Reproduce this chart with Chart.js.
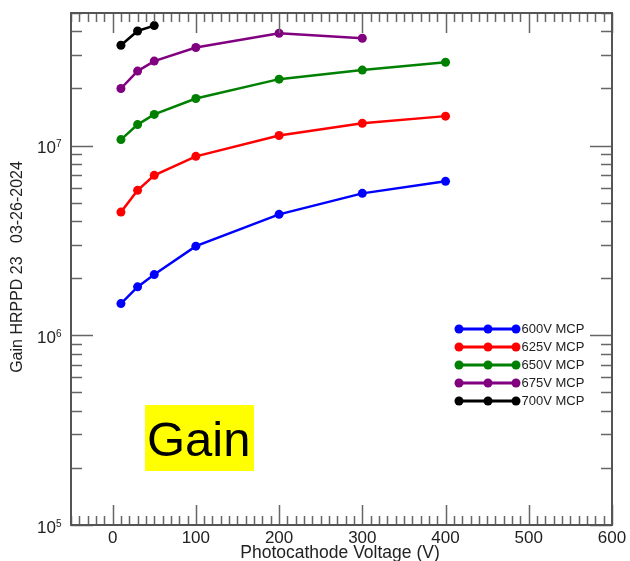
<!DOCTYPE html>
<html>
<head>
<meta charset="utf-8">
<script src="https://cdn.jsdelivr.net/npm/chart.js@4/dist/chart.umd.min.js"></script>
<style>
  html, body { margin: 0; padding: 0; background: #fff; }
</style>
</head>
<body>
<canvas id="gainChart" width="630" height="561"></canvas>
<script>
// gain vs photocathode voltage, one series per MCP voltage
const voltages = [10, 30, 50, 100, 200, 300, 400];
const gain600 = [1.47e6, 1.80e6, 2.09e6, 2.95e6, 4.34e6, 5.6e6, 6.48e6];
const gain625 = [4.46e6, 5.81e6, 6.97e6, 8.78e6, 1.13e7, 1.31e7, 1.43e7];
const gain650 = [1.076e7, 1.29e7, 1.46e7, 1.77e7, 2.24e7, 2.50e7, 2.75e7];
const gain675 = [2.0e7, 2.47e7, 2.79e7, 3.29e7, 3.91e7, 3.68e7];
const gain700 = [3.38e7, 4.02e7, 4.29e7];
const seriesLabels = ['600V MCP', '625V MCP', '650V MCP', '675V MCP', '700V MCP'];
const seriesColors = ['#0000ff', '#ff0000', '#008000', '#800080', '#000000'];
const xTickLabels = [0, 100, 200, 300, 400, 500, 600];
const yTickExponents = [5, 6, 7];

const FONT = '"Liberation Sans", Arial, Helvetica, sans-serif';

function toPoints(arr) {
  return arr.map((g, i) => ({ x: voltages[i], y: g }));
}

const frameAndLabels = {
  id: 'frameAndLabels',
  afterDraw(chart) {
    const { ctx, chartArea: a, scales } = chart;
    const xs = scales.x, ys = scales.y;
    ctx.save();

    // ticks on all four sides, pointing inward
    ctx.strokeStyle = '#666';
    ctx.lineWidth = 1.5;
    ctx.beginPath();
    for (let v = -50; v <= 600; v += 10) {
      const px = Math.round(xs.getPixelForValue(v)) + 0.5;
      const len = v % 100 === 0 ? 20 : 9;
      ctx.moveTo(px, a.bottom); ctx.lineTo(px, a.bottom - len);
      ctx.moveTo(px, a.top); ctx.lineTo(px, a.top + len);
    }
    for (let d = 5; d <= 7; d++) {
      for (let m = 1; m <= 9; m++) {
        const v = m * Math.pow(10, d);
        if (v > ys.max) break;
        const py = Math.round(ys.getPixelForValue(v)) + 0.5;
        const len = m === 1 ? 22 : 11;
        ctx.moveTo(a.left, py); ctx.lineTo(a.left + len, py);
        ctx.moveTo(a.right, py); ctx.lineTo(a.right - len, py);
      }
    }
    ctx.stroke();

    // frame
    ctx.strokeStyle = '#555';
    ctx.lineWidth = 2;
    ctx.strokeRect(a.left, a.top, a.right - a.left, a.bottom - a.top);

    // x tick labels
    ctx.fillStyle = '#222';
    ctx.font = '17px ' + FONT;
    ctx.textAlign = 'center';
    ctx.textBaseline = 'middle';
    xTickLabels.forEach((v) => {
      ctx.fillText(String(v), xs.getPixelForValue(v), a.bottom + 13);
    });

    // y tick labels 10^n
    yTickExponents.forEach((e) => {
      const py = ys.getPixelForValue(Math.pow(10, e));
      ctx.font = '17px ' + FONT;
      ctx.textAlign = 'right';
      ctx.textBaseline = 'middle';
      ctx.fillText('10', 56, py + 3);
      ctx.font = '10px ' + FONT;
      ctx.textAlign = 'left';
      ctx.fillText(String(e), 56, py - 1);
    });

    // axis titles
    ctx.font = '17.5px ' + FONT;
    ctx.textAlign = 'center';
    ctx.textBaseline = 'middle';
    ctx.fillText('Photocathode Voltage (V)', 340, 553);
    ctx.save();
    ctx.translate(18, 267);
    ctx.rotate(-Math.PI / 2);
    ctx.font = '16px ' + FONT;
    ctx.fillText('Gain HRPPD 23   03-26-2024', 0, 0);
    ctx.restore();

    // legend: line with three markers
    const legY = [329, 347, 365, 383, 401];
    seriesLabels.forEach((lab, i) => {
      const y = legY[i];
      ctx.strokeStyle = seriesColors[i];
      ctx.fillStyle = seriesColors[i];
      ctx.lineWidth = 3;
      ctx.beginPath();
      ctx.moveTo(459, y); ctx.lineTo(516, y);
      ctx.stroke();
      [459, 488, 516].forEach((mx) => {
        ctx.beginPath();
        ctx.arc(mx, y, 4.5, 0, Math.PI * 2);
        ctx.fill();
      });
      ctx.fillStyle = '#222';
      ctx.font = '13px ' + FONT;
      ctx.textAlign = 'left';
      ctx.textBaseline = 'middle';
      ctx.fillText(lab, 521.5, y + 0.5);
    });

    // "Gain" label box
    ctx.fillStyle = '#ffff00';
    ctx.fillRect(145, 405, 109, 66);
    ctx.fillStyle = '#000';
    ctx.font = '49px ' + FONT;
    ctx.textAlign = 'left';
    ctx.textBaseline = 'alphabetic';
    ctx.fillText('Gain', 147, 456);

    ctx.restore();
  },
};

const allSeries = [gain600, gain625, gain650, gain675, gain700];

new Chart(document.getElementById('gainChart'), {
  type: 'line',
  data: {
    datasets: allSeries.map((s, i) => ({
      label: seriesLabels[i],
      data: toPoints(s),
      borderColor: seriesColors[i],
      backgroundColor: seriesColors[i],
      borderWidth: 2.5,
      pointRadius: 4.5,
      pointBorderWidth: 0,
      tension: 0,
    })),
  },
  options: {
    responsive: false,
    animation: false,
    devicePixelRatio: 1,
    layout: { padding: { left: 71, right: 18, top: 13, bottom: 36 } },
    plugins: { legend: { display: false }, tooltip: { enabled: false } },
    scales: {
      x: { type: 'linear', min: -50, max: 600, display: false },
      y: { type: 'logarithmic', min: 1e5, max: 5e7, display: false },
    },
  },
  plugins: [frameAndLabels],
});
</script>
</body>
</html>
